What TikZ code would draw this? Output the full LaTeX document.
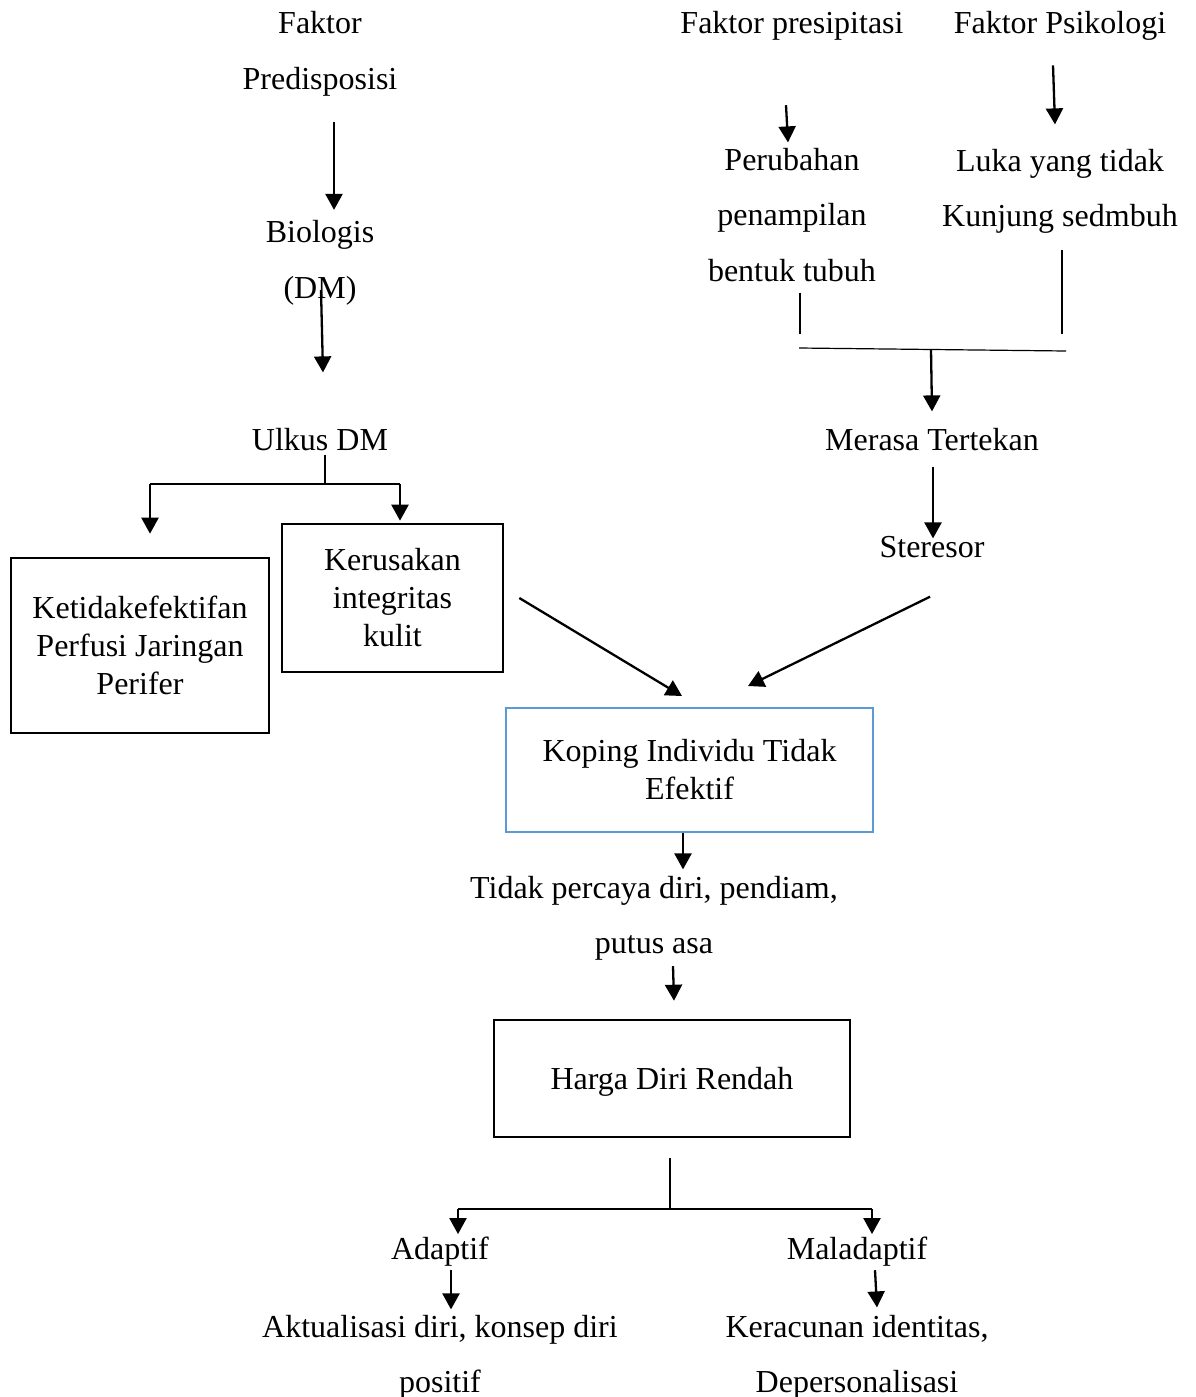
\documentclass[tikz,border=0pt]{standalone}
\usepackage{fontspec}
\setmainfont{Liberation Serif}
\usepackage{tikz}
\usetikzlibrary{
        arrows.meta,
        positioning
    }
\definecolor{boxblue}{RGB}{91,155,213}
\tikzset{>={Triangle[length=8pt,width=8.5pt]}}
\tikzset{
    txt/.style={inner sep=0pt,anchor=base,align=center,font=\fontsize{16}{27.75}\selectfont},
    box/.style={draw,line width=1.3pt,inner sep=0pt,align=center,font=\fontsize{16}{19}\selectfont},
    arr/.style={->,line width=1.15pt},
    link/.style={line width=0.6pt}
}

\begin{document}
\begin{tikzpicture}[x=0.5pt,y=-0.5pt]
                    \useasboundingbox (0,0) rectangle (1195,1397);
                    \node[txt] (pre) at (320,89) {Faktor\\Predisposisi};
                    \node[txt] (bio) at (320,298) {Biologis\\(DM)};
                    \node[txt] (ulk) at (320,450) {Ulkus DM};
                    \node[box,minimum width=129pt,minimum height=87.5pt] (kti) at (140,645.5) {Ketidakefektifan\\Perfusi Jaringan\\Perifer};
                    \node[box,minimum width=110.5pt,minimum height=74pt] (krs) at (392.5,598) {Kerusakan\\integritas\\kulit};
                    \node[txt] (fp) at (792,33) {Faktor presipitasi};
                    \node[txt] (fps) at (1060,33) {Faktor Psikologi};
                    \node[txt] (pen) at (792,281) {Perubahan\\penampilan\\bentuk tubuh};
                    \node[txt] (luk) at (1060,226.5) {Luka yang tidak\\Kunjung sedmbuh};
                    \node[txt] (mrs) at (932,450) {Merasa Tertekan};
                    \node[txt] (str) at (932,557) {Steresor};
                    \node[box,draw=boxblue,line width=1pt,minimum width=183.5pt,minimum height=62pt] (kop) at (689.5,770) {Koping Individu Tidak\\Efektif};
                    \node[txt] (tpd) at (654,953.5) {Tidak percaya diri, pendiam,\\putus asa};
                    \node[box,text depth=0pt,minimum width=178pt,minimum height=58.5pt] (hdr) at (672,1078.5) {Harga Diri Rendah};
                    \node[txt] (adp) at (440,1259) {Adaptif};
                    \node[txt] (mal) at (857,1259) {Maladaptif};
                    \node[txt] (akt) at (440,1392.5) {Aktualisasi diri, konsep diri\\positif};
                    \node[txt] (ker) at (857,1392.5) {Keracunan identitas,\\Depersonalisasi};
                    \coordinate (uf) at (325,484);
                    \coordinate (ufl) at (150,484);
                    \coordinate (ufr) at (400,484);
                    \coordinate (pl) at (800,334);
                    \coordinate (lr) at (1062,334);
                    \coordinate (jl) at (799,348);
                    \coordinate (jr) at (1066,351);
                    \coordinate (jm) at (931,349.5);
                    \coordinate (hf) at (670,1209);
                    \coordinate (hl) at (458,1209);
                    \coordinate (hr) at (872,1209);
                    \draw[arr,shorten <=13pt,shorten >=5pt] ([xshift=7pt]pre.south) -- ([xshift=7pt]bio.north);
                    \draw[arr] ([shift={(0.5pt,7.5pt)}]bio.south) -- ([shift={(1.5pt,27.5pt)}]ulk.north);
                    \draw[link] ([shift={(2.5pt,-2pt)}]ulk.south) -- (uf);
                    \draw[link] (ufl) -- (ufr);
                    \draw[arr] (ufl) -- ([shift={(5pt,11.5pt)}]kti.north);
                    \draw[arr] (ufr) -- ([shift={(3.75pt,1pt)}]krs.north);
                    \draw[arr] ([xshift=7.5pt]krs.east) -- ([shift={(-3.75pt,5.5pt)}]kop.north);
                    \draw[arr] ([shift={(-3pt,-32.5pt)}]fp.south) -- ([shift={(-2pt,2.5pt)}]pen.north);
                    \draw[arr] ([shift={(-3.5pt,-12.5pt)}]fps.south) -- ([shift={(-2.5pt,12pt)}]luk.north);
                    \draw[link] ([shift={(4pt,-5.5pt)}]pen.south) -- (pl);
                    \draw[link] ([shift={(1pt,-8.25pt)}]luk.south) -- (lr);
                    \draw[link] (jl) -- (jr);
                    \draw[arr] (jm) -- ([yshift=8pt]mrs.north);
                    \draw[arr] ([shift={(0.5pt,-8pt)}]mrs.south) -- ([shift={(0.5pt,-1.5pt)}]str.north);
                    \draw[arr] ([shift={(-1pt,-19.5pt)}]str.south) -- ([shift={(29.25pt,10.5pt)}]kop.north);
                    \draw[arr] ([xshift=-3.25pt]kop.south) -- ([shift={(14.5pt,3pt)}]tpd.north);
                    \draw[arr] ([shift={(9.5pt,-2.75pt)}]tpd.south) -- ([shift={(1pt,9pt)}]hdr.north);
                    \draw[link] ([shift={(-1pt,-10pt)}]hdr.south) -- (hf);
                    \draw[link] (hl) -- (hr);
                    \draw[arr] (hl) -- ([shift={(9pt,1pt)}]adp.north);
                    \draw[arr] (hr) -- ([shift={(7.5pt,1pt)}]mal.north);
                    \draw[arr] ([shift={(5.5pt,-2pt)}]adp.south) -- ([shift={(5.5pt,2.5pt)}]akt.north);
                    \draw[arr] ([shift={(9pt,-2pt)}]mal.south) -- ([shift={(10pt,3.5pt)}]ker.north);
\end{tikzpicture}
\end{document}
